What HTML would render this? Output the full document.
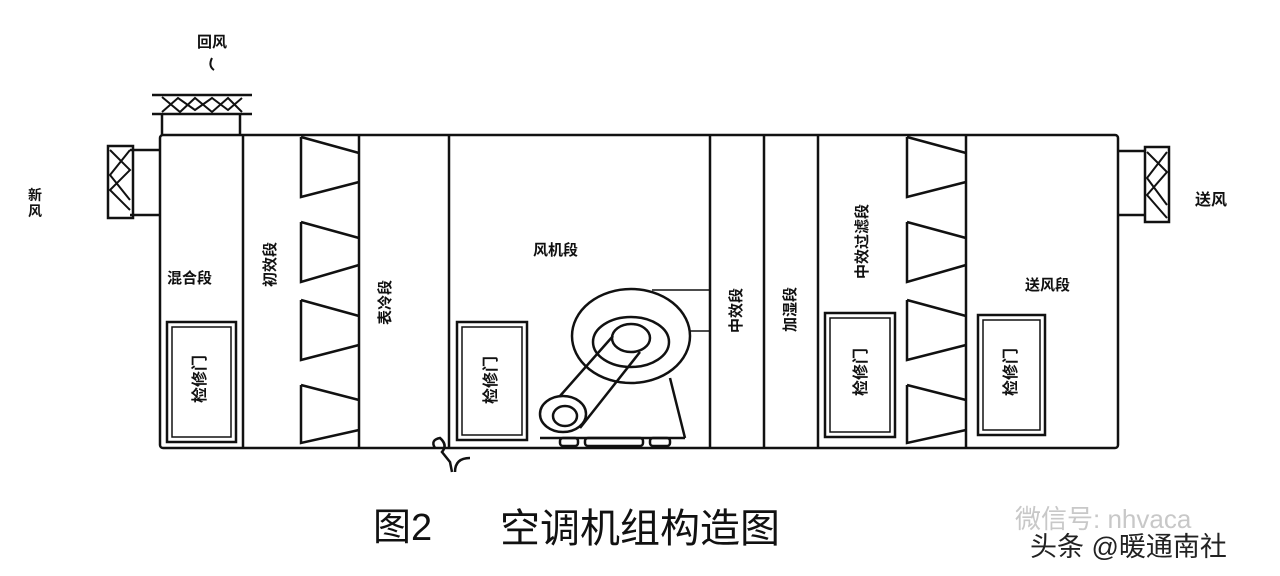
<!DOCTYPE html>
<html><head><meta charset="utf-8"><style>
html,body{margin:0;padding:0;background:#fff;width:1280px;height:576px;overflow:hidden}
svg{display:block}
text{font-family:"Liberation Sans","Noto Sans CJK SC",sans-serif;fill:#111}
</style></head><body>
<svg width="1280" height="576" viewBox="0 0 1280 576" xmlns="http://www.w3.org/2000/svg">
<g fill="none" stroke="#111" stroke-width="2.5">
<rect x="160" y="135" width="958" height="313" rx="3"/>
<line x1="243" y1="135" x2="243" y2="448"/>
<line x1="359" y1="135" x2="359" y2="448"/>
<line x1="449" y1="135" x2="449" y2="448"/>
<line x1="710" y1="135" x2="710" y2="448"/>
<line x1="764" y1="135" x2="764" y2="448"/>
<line x1="818" y1="135" x2="818" y2="448"/>
<line x1="966" y1="135" x2="966" y2="448"/>
<!-- bags left -->
<path d="M301,137 L301,197 L359,182 M301,137 L359,153 M301,222 L301,282 L359,265 M301,222 L359,238 M301,300 L301,360 L359,345 M301,300 L359,316 M301,385 L301,443 L359,430 M301,385 L359,400"/>
<!-- bags right -->
<path d="M907,137 L907,197 L966,182 M907,137 L966,153 M907,222 L907,282 L966,265 M907,222 L966,238 M907,300 L907,360 L966,345 M907,300 L966,316 M907,385 L907,443 L966,430 M907,385 L966,400"/>
<!-- doors -->
<rect x="167" y="322" width="69" height="120"/><rect x="172" y="327" width="59" height="110" stroke-width="1.5"/>
<rect x="457" y="322" width="70" height="118"/><rect x="462" y="327" width="60" height="108" stroke-width="1.5"/>
<rect x="825" y="313" width="70" height="124"/><rect x="830" y="318" width="60" height="114" stroke-width="1.5"/>
<rect x="978" y="315" width="67" height="120"/><rect x="983" y="320" width="57" height="110" stroke-width="1.5"/>
<!-- fan -->
<ellipse cx="631" cy="336" rx="59" ry="47"/>
<ellipse cx="631" cy="342" rx="38" ry="25"/>
<ellipse cx="631" cy="338" rx="19" ry="14"/>
<ellipse cx="563" cy="414" rx="23" ry="18"/>
<ellipse cx="565" cy="416" rx="12" ry="10"/>
<line x1="560" y1="396" x2="613" y2="336"/><line x1="580" y1="428" x2="640" y2="352"/>
<line x1="670" y1="378" x2="685" y2="438"/>
<line x1="540" y1="438" x2="685" y2="438"/>
<line x1="652" y1="290" x2="710" y2="290" stroke-width="1.5"/>
<line x1="690" y1="331" x2="710" y2="331" stroke-width="1.5"/>
<rect x="560" y="438" width="18" height="8" rx="3"/><rect x="585" y="438" width="58" height="8" rx="3"/><rect x="650" y="438" width="20" height="8" rx="3"/>
<!-- ducts -->
<line x1="130" y1="150" x2="160" y2="150"/><line x1="130" y1="215" x2="160" y2="215"/>
<rect x="108" y="146" width="25" height="72"/>
<path d="M110,150 L130,170 L110,190 L130,210 M130,150 L110,175 L130,200" stroke-width="2"/>
<line x1="1118" y1="151" x2="1146" y2="151"/><line x1="1118" y1="215" x2="1146" y2="215"/>
<rect x="1145" y="147" width="24" height="75"/>
<path d="M1147,152 L1167,172 L1147,195 L1167,218 M1167,152 L1147,178 L1167,205" stroke-width="2"/>
<line x1="162" y1="114" x2="162" y2="135"/><line x1="240" y1="114" x2="240" y2="135"/>
<line x1="152" y1="95" x2="252" y2="95"/><line x1="152" y1="114" x2="252" y2="114"/>
<path d="M162,97 L180,112 L195,98 L212,112 L228,98 L242,112 M162,112 L178,98 L195,110 L212,98 L228,110 L242,98" stroke-width="2"/>
<!-- drain -->
<path d="M435,448 Q430,440 440,438 Q448,445 442,452 L450,462 L452,472 M455,472 Q455,458 470,458"/>
<path d="M212,58 Q208,66 214,70" stroke-width="2"/>
</g>
<g font-size="15" font-weight="bold">
<text x="197" y="47">回风</text>
<text x="167" y="283">混合段</text>
<text x="533" y="255">风机段</text>
<text x="1025" y="290">送风段</text>
<text x="176" y="386" transform="rotate(-90 199 380)" font-size="16">检修门</text>
<text x="466" y="386" transform="rotate(-90 490 380)" font-size="16">检修门</text>
<text x="836" y="378" transform="rotate(-90 860 372)" font-size="16">检修门</text>
<text x="986" y="378" transform="rotate(-90 1010 372)" font-size="16">检修门</text>
<text x="250" y="272" transform="rotate(-90 270 267)">初效段</text>
<text x="362" y="307" transform="rotate(-90 385 302)">表冷段</text>
<text x="712" y="314" transform="rotate(-90 736 309)">中效段</text>
<text x="767" y="314" transform="rotate(-90 790 309)">加湿段</text>
<text x="818" y="240" transform="rotate(-90 862 235)">中效过滤段</text>
<text x="28" y="200" font-size="14">新</text><text x="28" y="216" font-size="14">风</text>
<text x="1195" y="205" font-size="16">送风</text>
</g>
<text x="373" y="540" font-size="38">图2</text>
<text x="500" y="542" font-size="40">空调机组构造图</text>
<text x="1015" y="528" font-size="26" style="fill:#c8c8c8">微信号: nhvaca</text>
<text x="1030" y="556" font-size="27" style="fill:#222">头条 @暖通南社</text>
</svg>
</body></html>
